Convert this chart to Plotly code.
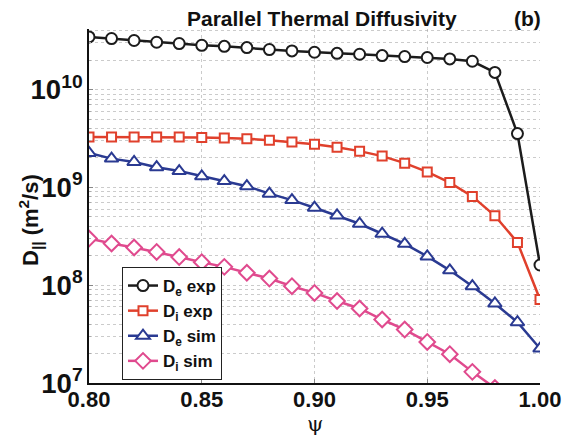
import plotly.graph_objects as go

psi = [0.80, 0.81, 0.82, 0.83, 0.84, 0.85, 0.86, 0.87, 0.88, 0.89, 0.90,
       0.91, 0.92, 0.93, 0.94, 0.95, 0.96, 0.97, 0.98, 0.99, 1.00]

de_exp = [3.46e10, 3.33e10, 3.18e10, 3.05e10, 2.96e10, 2.84e10, 2.77e10, 2.69e10, 2.57e10, 2.49e10, 2.41e10,
          2.35e10, 2.30e10, 2.23e10, 2.18e10, 2.13e10, 2.06e10, 1.95e10, 1.50e10, 3.55e9, 1.61e8]
di_exp = [3.27e9, 3.27e9, 3.27e9, 3.27e9, 3.27e9, 3.23e9, 3.20e9, 3.15e9, 3.03e9, 2.91e9, 2.76e9,
          2.58e9, 2.35e9, 2.09e9, 1.77e9, 1.44e9, 1.12e9, 8.09e8, 5.13e8, 2.74e8, 7.14e7]
de_sim = [2.25e9, 1.97e9, 1.82e9, 1.61e9, 1.47e9, 1.30e9, 1.16e9, 1.03e9, 8.63e8, 7.42e8, 6.20e8,
          5.17e8, 4.25e8, 3.36e8, 2.65e8, 1.97e8, 1.42e8, 9.77e7, 6.5e7, 4.18e7, 2.25e7]
psi_di_sim = psi[:19]
di_sim = [3.0e8, 2.67e8, 2.43e8, 2.19e8, 1.94e8, 1.72e8, 1.54e8, 1.34e8, 1.17e8, 9.77e7, 8.34e7,
          6.9e7, 5.78e7, 4.46e7, 3.52e7, 2.63e7, 1.97e7, 1.30e7, 8.9e6]

x_ticks = [0.80, 0.85, 0.90, 0.95, 1.00]
x_tick_labels = ["0.80", "0.85", "0.90", "0.95", "1.00"]

series = [
    ("D<sub>e</sub> exp", psi, de_exp, "#1c1c1c", "circle", 11),
    ("D<sub>i</sub> exp", psi, di_exp, "#e0402c", "square", 9),
    ("D<sub>e</sub> sim", psi, de_sim, "#2a3a92", "triangle-up", 12),
    ("D<sub>i</sub> sim", psi_di_sim, di_sim, "#e04a8e", "diamond", 12),
]

fig = go.Figure()
for name, xs, ys, col, sym, sz in series:
    fig.add_trace(go.Scatter(
        x=xs, y=ys, name=name, mode="lines+markers",
        line=dict(color=col, width=2.5),
        marker=dict(symbol=sym, size=sz, color="white", line=dict(color=col, width=2)),
    ))

L, R, T, B = 89, 25, 29, 59
W, H = 565, 442
pw, ph = W - L - R, H - T - B


def px(xp):
    return (xp - L) / pw


def py(yp):
    return (H - B - yp) / ph


grid_col = "rgba(160,160,160,0.55)"
fig.update_layout(
    width=W, height=H,
    margin=dict(l=L, r=R, t=T, b=B),
    plot_bgcolor="white", paper_bgcolor="white",
    font=dict(family="Liberation Sans, Arial, sans-serif", color="#111", size=18),
    showlegend=True,
    legend=dict(x=px(122), y=py(267), xanchor="left", yanchor="top",
                bgcolor="white", bordercolor="#222", borderwidth=1,
                font=dict(size=17, weight="bold"), tracegroupgap=0,
                itemwidth=30),
    xaxis=dict(range=[0.8, 1.0], tickvals=x_ticks, ticktext=x_tick_labels,
               showline=True, linecolor="#111", linewidth=2, mirror=False,
               ticks="inside", ticklen=4, tickcolor="#888",
               showgrid=True, gridcolor=grid_col, griddash="dot", gridwidth=1,
               zeroline=False, automargin=False, ticklabelstandoff=-4,
               tickfont=dict(size=22, weight="bold")),
    yaxis=dict(type="log", range=[7, 10.62], dtick=1, exponentformat="power",
               showline=True, linecolor="#111", linewidth=2,
               ticks="inside", ticklen=4, tickcolor="#888",
               showgrid=True, gridcolor=grid_col, griddash="dot", gridwidth=1,
               minor=dict(dtick="D1", showgrid=True, gridcolor=grid_col, griddash="dot",
                          ticks="inside", ticklen=2, tickcolor="#aaa"),
               zeroline=False, automargin=False,
               tickfont=dict(size=22, weight="bold")),
    annotations=[
        dict(text="<b>Parallel Thermal Diffusivity</b>", x=px(322), y=py(19),
             xref="paper", yref="paper", showarrow=False, font=dict(size=21),
             xanchor="center", yanchor="middle"),
        dict(text="<b>(b)</b>", x=px(527), y=py(19),
             xref="paper", yref="paper", showarrow=False, font=dict(size=21),
             xanchor="center", yanchor="middle"),
        dict(text="ψ", x=px(315), y=py(424), xref="paper", yref="paper", showarrow=False,
             font=dict(family="DejaVu Serif, serif", size=21),
             xanchor="center", yanchor="middle"),
        dict(text="<b>D<sub>||</sub> (m<sup>2</sup>/s)</b>", x=px(30), y=py(220),
             xref="paper", yref="paper", showarrow=False, textangle=-90,
             font=dict(size=22), xanchor="center", yanchor="middle"),
    ],
)

fig.write_html("out.html")
